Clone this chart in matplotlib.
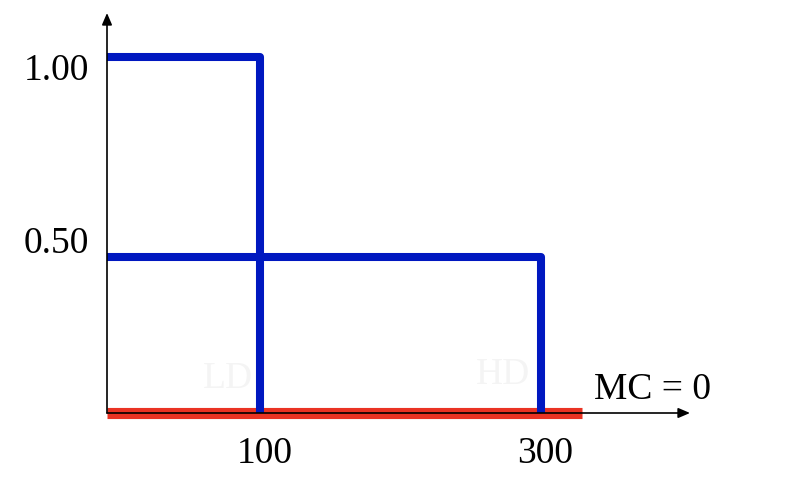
import matplotlib
matplotlib.use("Agg")
import matplotlib.pyplot as plt
from matplotlib.transforms import ScaledTranslation

# ---- data ----
segment_labels = ["LD", "HD"]
segment_qty = [100, 300]          # quantity where each demand step ends
segment_price = [1.03, 0.45]      # price level of each demand step
mc_value = 0.0                    # marginal cost
mc_end_qty = 329                  # red MC line extent
x_ticks = [100, 300]
x_tick_labels = ["100", "300"]
y_ticks = [0.5, 1.0]
y_tick_labels = ["0.50", "1.00"]
mc_label = "MC = 0"
seg_label_pos_x = [77, 273]
seg_label_pos_y = [0.10, 0.11]

x_min, x_max = -9, 406
y_min, y_max = 0, 1.156

BLUE = "#0018C0"
RED = "#EA3323"
FONT = "Liberation Serif"

fig = plt.figure(figsize=(7.94, 4.80), dpi=100)
ax = fig.add_axes([107/794, (480-413)/480, (690-107)/794, (413-13)/480])
ax.set_xlim(x_min, x_max)
ax.set_ylim(y_min, y_max)
for s in ax.spines.values():
    s.set_visible(False)

# faint segment labels
for lab, lx, ly in zip(segment_labels, seg_label_pos_x, seg_label_pos_y):
    ax.text(lx, ly, lab, family=FONT, fontsize=27, color="#F4F4F4",
            ha="center", va="center", zorder=1)

# MC line
ax.plot([x_min, mc_end_qty], [mc_value, mc_value], color=RED, lw=8,
        solid_capstyle="butt", zorder=2, clip_on=False)

# demand steps
for q, p in zip(segment_qty, segment_price):
    ax.plot([x_min, q, q], [p, p, mc_value], color=BLUE, lw=5.8,
            solid_capstyle="butt", solid_joinstyle="round", zorder=3,
            clip_on=False)

# axes with arrows
ax.annotate("", xy=(1.0, 0), xytext=(0, 0), xycoords="axes fraction",
            arrowprops=dict(arrowstyle="-|>,head_length=0.7,head_width=0.3",
                            color="black", lw=1.2, shrinkA=0, shrinkB=0), zorder=4)
ax.annotate("", xy=(0, 1.0), xytext=(0, 0), xycoords="axes fraction",
            arrowprops=dict(arrowstyle="-|>,head_length=0.7,head_width=0.3",
                            color="black", lw=1.2, shrinkA=0, shrinkB=0), zorder=4)

# ticks
ax.set_xticks(x_ticks)
ax.set_xticklabels(x_tick_labels, family=FONT, fontsize=27)
ax.set_yticks(y_ticks)
ax.set_yticklabels(y_tick_labels, family=FONT, fontsize=27)
ax.tick_params(axis="both", length=0)
ax.tick_params(axis="x", pad=17)
ax.tick_params(axis="y", pad=13)
off = ScaledTranslation(4.5/100, 0, fig.dpi_scale_trans)
for t in ax.get_xticklabels():
    t.set_transform(t.get_transform() + off)

# MC label
ax.text(0.935, 0.058, mc_label, transform=ax.transAxes, family=FONT,
        fontsize=27, ha="center", va="center", color="black")

fig.savefig("out.png", dpi=100)
